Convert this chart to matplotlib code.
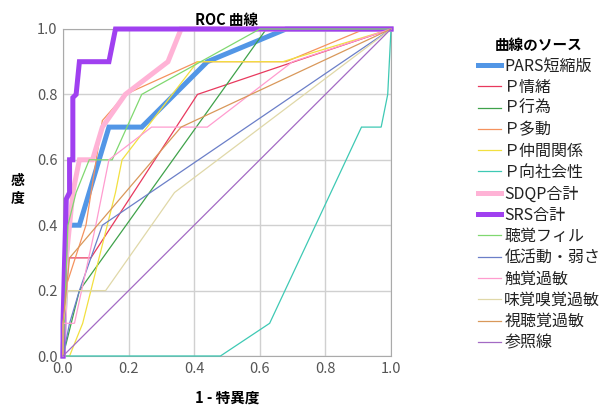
import matplotlib
matplotlib.use('Agg')
import matplotlib.pyplot as plt

plt.rcParams['font.family'] = ['Noto Sans CJK JP', 'DejaVu Sans']

# 曲線ごとの (1 - 特異度, 感度)
pars_x = [0, 0.01, 0.015, 0.05, 0.14, 0.24, 0.44, 0.68, 1.0]
pars_y = [0, 0.3, 0.4, 0.4, 0.7, 0.7, 0.9, 1.0, 1.0]
jocho_x = [0, 0.015, 0.085, 0.41, 1.0]
jocho_y = [0, 0.3, 0.3, 0.8, 1.0]
koui_x = [0, 0.05, 0.62, 1.0]
koui_y = [0, 0.2, 1.0, 1.0]
tado_x = [0, 0.005, 0.07, 0.12, 0.19, 0.41, 0.68, 0.92, 1.0]
tado_y = [0, 0.2, 0.4, 0.72, 0.8, 0.9, 0.9, 1.0, 1.0]
nakama_x = [0, 0.02, 0.06, 0.16, 0.18, 0.41, 0.67, 1.0]
nakama_y = [0, 0, 0.1, 0.5, 0.6, 0.9, 0.9, 1.0]
koshakai_x = [0, 0.48, 0.63, 0.91, 0.97, 0.99, 1.0]
koshakai_y = [0, 0, 0.1, 0.7, 0.7, 0.8, 1.0]
sdqp_x = [0, 0.01, 0.03, 0.05, 0.09, 0.12, 0.19, 0.32, 0.36, 1.0]
sdqp_y = [0, 0.3, 0.5, 0.6, 0.6, 0.7, 0.8, 0.9, 1.0, 1.0]
srs_x = [0, 0, 0.005, 0.01, 0.02, 0.02, 0.03, 0.03, 0.04, 0.05, 0.14, 0.16, 1.0]
srs_y = [0, 0.1, 0.3, 0.48, 0.5, 0.6, 0.6, 0.79, 0.8, 0.9, 0.9, 1.0, 1.0]
choufil_x = [0, 0.015, 0.04, 0.08, 0.15, 0.24, 0.6, 1.0]
choufil_y = [0, 0.4, 0.5, 0.6, 0.6, 0.8, 1.0, 1.0]
teikatsu_x = [0, 0.02, 0.05, 0.12, 1.0]
teikatsu_y = [0, 0.1, 0.2, 0.4, 1.0]
shokkaku_x = [0, 0, 0.035, 0.1, 0.14, 0.27, 0.44, 0.7, 1.0]
shokkaku_y = [0, 0.1, 0.1, 0.4, 0.6, 0.7, 0.7, 0.9, 1.0]
mikaku_x = [0, 0, 0.015, 0.13, 0.34, 1.0]
mikaku_y = [0, 0.1, 0.2, 0.2, 0.5, 1.0]
shichou_x = [0, 0, 0.02, 0.36, 1.0]
shichou_y = [0, 0.1, 0.3, 0.7, 1.0]
ref_x = [0, 1]
ref_y = [0, 1]

curves = [
    ('PARS短縮版', pars_x, pars_y, '#5296e6', 3.6),
    ('Ｐ情緒', jocho_x, jocho_y, '#e8395e', 0.9),
    ('Ｐ行為', koui_x, koui_y, '#3fa24a', 0.9),
    ('Ｐ多動', tado_x, tado_y, '#f5925e', 0.9),
    ('Ｐ仲間関係', nakama_x, nakama_y, '#f2e040', 0.9),
    ('Ｐ向社会性', koshakai_x, koshakai_y, '#3ec9b4', 0.9),
    ('SDQP合計', sdqp_x, sdqp_y, '#ffb3d6', 3.6),
    ('SRS合計', srs_x, srs_y, '#a040f0', 3.6),
    ('聴覚フィル', choufil_x, choufil_y, '#80d870', 0.9),
    ('低活動・弱さ', teikatsu_x, teikatsu_y, '#6b7fc8', 0.9),
    ('触覚過敏', shokkaku_x, shokkaku_y, '#ff9ccf', 0.9),
    ('味覚嗅覚過敏', mikaku_x, mikaku_y, '#e0d8a8', 0.9),
    ('視聴覚過敏', shichou_x, shichou_y, '#d9985a', 0.9),
    ('参照線', ref_x, ref_y, '#a36ac4', 0.9),
]

fig = plt.figure(figsize=(6.14, 4.07), dpi=100)
ax = fig.add_axes([63/614, 51/407, 328/614, 327/407])

for i, (name, xs, ys, col, lw) in enumerate(curves):
    ax.plot(xs, ys, color=col, lw=lw, label=name, zorder=3+i*0.1,
            solid_joinstyle='miter', clip_on=False)

ax.set_xlim(0, 1)
ax.set_ylim(0, 1)
ticks = [0.0, 0.2, 0.4, 0.6, 0.8, 1.0]
ax.set_xticks(ticks)
ax.set_yticks(ticks)
ax.set_xticklabels(['%.1f' % t for t in ticks])
ax.set_yticklabels(['%.1f' % t for t in ticks])
ax.tick_params(length=0, labelsize=10.5, labelcolor='#555555', pad=4)
ax.grid(True, color='#d0d0d0', lw=1)
for s in ax.spines.values():
    s.set_color('#aaaaaa')

ax.set_title('ROC 曲線', fontsize=10.5, fontweight='bold', pad=3)
ax.set_xlabel('1 - 特異度', fontsize=10.5, fontweight='bold', labelpad=10)
fig.text(18/614, 1 - 190/407, '感\n度', fontsize=10, fontweight='bold',
         ha='center', va='center', linespacing=1.3)

leg = ax.legend(loc='upper left', bbox_to_anchor=(1.265, 0.975), frameon=False,
                title='曲線のソース', fontsize=11.5, title_fontsize=10.5,
                handlelength=1.45, handletextpad=0.2, labelspacing=0.27,
                borderpad=0, borderaxespad=0)
leg.get_title().set_fontweight('bold')
for t in leg.get_texts():
    t.set_color('#222222')

fig.savefig('out.png', dpi=100)
